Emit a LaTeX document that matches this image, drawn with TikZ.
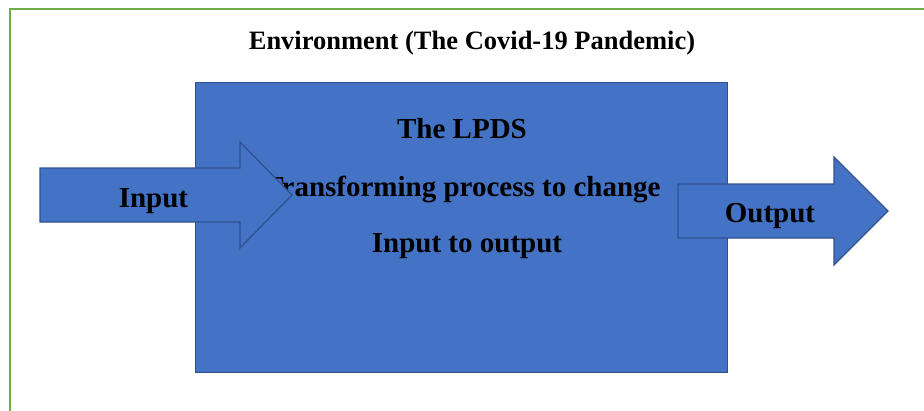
\documentclass[tikz,border=0pt]{standalone}
\usepackage{fontspec}
\setmainfont{Liberation Serif}
\definecolor{boxblue}{HTML}{4472C4}
\definecolor{edgeblue}{HTML}{2F528F}
\definecolor{framegreen}{HTML}{70AD47}
\begin{document}
\begin{tikzpicture}[x=1pt,y=-1pt,
  lbl/.style={font=\bfseries\fontsize{29}{34}\selectfont, inner sep=0pt, anchor=base},
  bluefill/.style={fill=boxblue, draw=edgeblue, line width=1.3pt, line join=miter}]
\useasboundingbox (0,0) rectangle (924,410);
\draw[framegreen, line width=2pt] (10,412) -- (10,9) -- (926,9);
\node[lbl, font=\bfseries\fontsize{26.5}{30}\selectfont] (env) at (472,49) {Environment (The Covid-19 Pandemic)};
\node[bluefill, minimum width=532pt, minimum height=290pt, anchor=north west, inner sep=0pt] (lpds) at (195,82) {};
\node[lbl] (t1) at (462,138) {The LPDS};
\node[lbl] (t2) at (462.5,196) {Transforming process to change};
\node[lbl] (t3) at (467,252) {Input to output};
\path[bluefill] (40,168) -- (240,168) -- (240,142) -- (292,195) -- (240,248) -- (240,222) -- (40,222) -- cycle;
\node[lbl] (in) at (153.5,207) {Input};
\path[bluefill] (678,184) -- (834,184) -- (834,157) -- (888,211) -- (834,265) -- (834,238) -- (678,238) -- cycle;
\node[lbl] (out) at (770,222) {Output};
\end{tikzpicture}
\end{document}
